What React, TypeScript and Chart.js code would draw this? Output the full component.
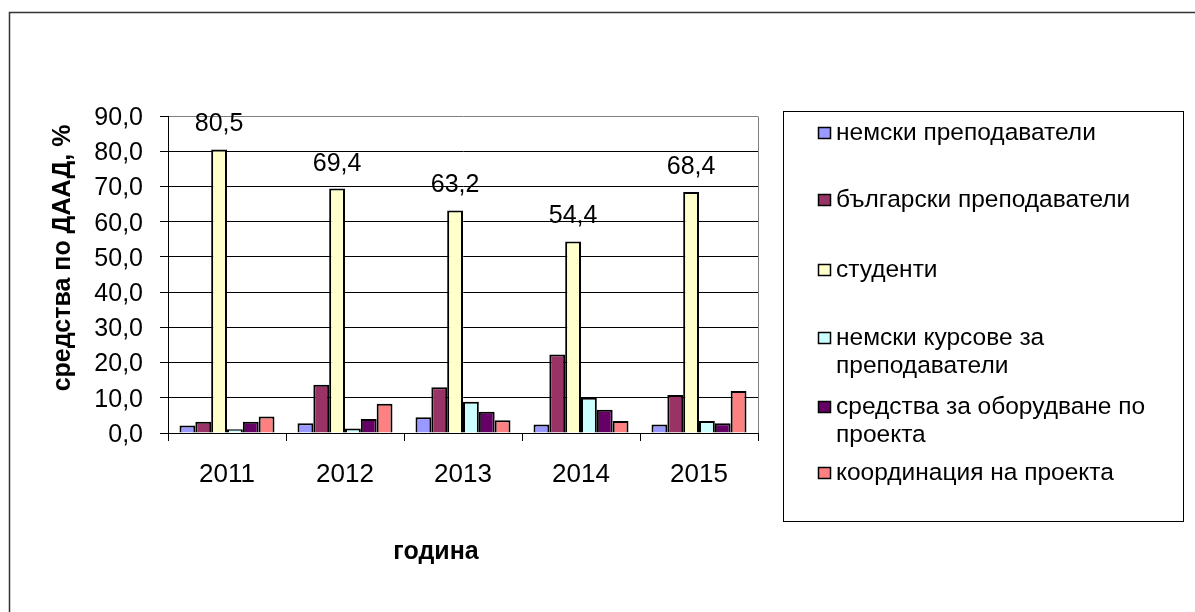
import React, { useEffect, useRef } from "react";
import { Chart, registerables } from "chart.js";

Chart.register(...registerables);

// ---- data ----
const categories = ["2011", "2012", "2013", "2014", "2015"];
const seriesNames = [
  "немски преподаватели",
  "български преподаватели",
  "студенти",
  "немски курсове за преподаватели",
  "средства за оборудване по проекта",
  "координация на проекта",
];
const germanTeachers = [2.1, 2.8, 4.5, 2.4, 2.4];
const bulgarianTeachers = [3.2, 13.7, 13.0, 22.3, 10.8];
const students = [80.5, 69.4, 63.2, 54.4, 68.4];
const germanCourses = [1.1, 1.3, 8.9, 10.0, 3.4];
const equipment = [3.2, 4.0, 6.0, 6.6, 2.8];
const coordination = [4.7, 8.3, 3.6, 3.4, 11.9];
const yTickValues = [0, 10, 20, 30, 40, 50, 60, 70, 80, 90];
const yAxisTitle = "средства по ДААД, %";
const xAxisTitle = "година";
const labelledSeries = 2; // студенти

const seriesValues = [germanTeachers, bulgarianTeachers, students, germanCourses, equipment, coordination];
const seriesColors = ["#9999FF", "#993366", "#FFFFCC", "#CCFFFF", "#660066", "#FF8080"];

// ---- layout / style ----
const W = 1195;
const H = 612;
const FONT = "'Liberation Sans', Arial, sans-serif";
const fmt = (v: number) => v.toFixed(1).replace(".", ",");

const legendBox = { x: 783.5, y: 111.5, w: 400, h: 410 };
const legendRowY = [133, 200, 270, 338, 407, 473];
const legendLineH = 28.5;
const legendWrap = 335;

const decorPlugin = {
  id: "decor",
  beforeDraw(chart: any) {
    const ctx = chart.ctx;
    ctx.save();
    ctx.fillStyle = "#ffffff";
    ctx.fillRect(0, 0, W, H);
    // outer frame (top + left visible)
    ctx.strokeStyle = "#333333";
    ctx.lineWidth = 1.5;
    ctx.beginPath();
    ctx.moveTo(9.5, H);
    ctx.lineTo(9.5, 12.5);
    ctx.lineTo(W, 12.5);
    ctx.stroke();
    ctx.restore();
  },
  afterDatasetsDraw(chart: any) {
    const ctx = chart.ctx;
    const meta = chart.getDatasetMeta(labelledSeries);
    ctx.save();
    ctx.fillStyle = "#000";
    ctx.font = `25px ${FONT}`;
    ctx.textAlign = "center";
    ctx.textBaseline = "alphabetic";
    meta.data.forEach((el: any, i: number) => {
      const v = chart.data.datasets[labelledSeries].data[i];
      ctx.fillText(fmt(v), el.x, el.y - 18);
    });
    ctx.restore();
  },
  afterDraw(chart: any) {
    const ctx = chart.ctx;
    const a = chart.chartArea;
    ctx.save();
    // plot area right border
    ctx.strokeStyle = "#808080";
    ctx.lineWidth = 1;
    ctx.beginPath();
    ctx.moveTo(Math.round(a.right) + 0.5, Math.round(a.top) + 0.5);
    ctx.lineTo(Math.round(a.right) + 0.5, Math.round(a.bottom));
    ctx.stroke();

    // axis titles
    ctx.fillStyle = "#000";
    ctx.font = `bold 25px ${FONT}`;
    ctx.textAlign = "center";
    ctx.textBaseline = "middle";
    ctx.fillText(xAxisTitle, 436, 552);
    ctx.save();
    ctx.translate(63, 258);
    ctx.rotate(-Math.PI / 2);
    ctx.fillText(yAxisTitle, 0, 0);
    ctx.restore();

    // legend
    ctx.strokeStyle = "#000";
    ctx.lineWidth = 1;
    ctx.strokeRect(legendBox.x, legendBox.y, legendBox.w, legendBox.h);
    ctx.font = `24.5px ${FONT}`;
    ctx.textAlign = "left";
    ctx.textBaseline = "middle";
    chart.data.datasets.forEach((ds: any, i: number) => {
      const y0 = legendRowY[i];
      ctx.fillStyle = ds.backgroundColor;
      ctx.fillRect(818.5, y0 - 5.5, 12, 11);
      ctx.strokeStyle = "#000";
      ctx.lineWidth = 1.5;
      ctx.strokeRect(818.5, y0 - 5.5, 12, 11);
      // word-wrap
      const words = String(ds.label).split(" ");
      const lines: string[] = [];
      let cur = "";
      words.forEach((w) => {
        const t = cur ? cur + " " + w : w;
        if (cur && ctx.measureText(t).width > legendWrap) {
          lines.push(cur);
          cur = w;
        } else cur = t;
      });
      if (cur) lines.push(cur);
      ctx.fillStyle = "#000";
      lines.forEach((ln, k) => ctx.fillText(ln, 836, y0 + k * legendLineH));
    });
    ctx.restore();
  },
};

export default function App() {
  const ref = useRef<HTMLCanvasElement | null>(null);
  useEffect(() => {
    document.body.style.margin = "0";
    const canvas = ref.current!;
    const chart = new Chart(canvas, {
      type: "bar",
      data: {
        labels: categories,
        datasets: seriesNames.map((name, i) => ({
          label: name,
          data: seriesValues[i],
          backgroundColor: seriesColors[i],
          borderColor: "#000000",
          borderWidth: 2,
          barPercentage: 1,
          categoryPercentage: 0.805,
        })),
      },
      options: {
        responsive: false,
        animation: false,
        devicePixelRatio: 1,
        layout: { padding: { top: 116, right: W - 758, bottom: 0, left: 0 } },
        plugins: {
          legend: { display: false },
          tooltip: { enabled: false },
          title: { display: false },
        },
        scales: {
          x: {
            ticks: { color: "#000", font: { family: FONT, size: 26 }, padding: 18 },
            grid: { display: true, drawOnChartArea: false, drawTicks: true, tickLength: 8, color: "#000", offset: true },
            border: { display: true, color: "#000", width: 1 },
            afterFit: (s: any) => {
              s.height = H - 433;
            },
          },
          y: {
            min: 0,
            max: 90,
            afterBuildTicks: (s: any) => {
              s.ticks = yTickValues.map((v) => ({ value: v }));
            },
            ticks: {
              color: "#000",
              font: { family: FONT, size: 25 },
              padding: 17,
              labelOffset: 2,
              callback: (v: any) => fmt(Number(v)),
            },
            grid: {
              color: (c: any) => (c.tick && c.tick.value === 90 ? "#808080" : "#000"),
              lineWidth: 1,
              tickLength: 8,
              tickColor: "#000",
            },
            border: { display: true, color: "#000", width: 1 },
            afterFit: (s: any) => {
              s.width = 168;
            },
          },
        },
      },
      plugins: [decorPlugin],
    });
    return () => chart.destroy();
  }, []);
  return (
    <div style={{ width: W, height: H }}>
      <canvas ref={ref} width={W} height={H} style={{ display: "block" }} />
    </div>
  );
}
